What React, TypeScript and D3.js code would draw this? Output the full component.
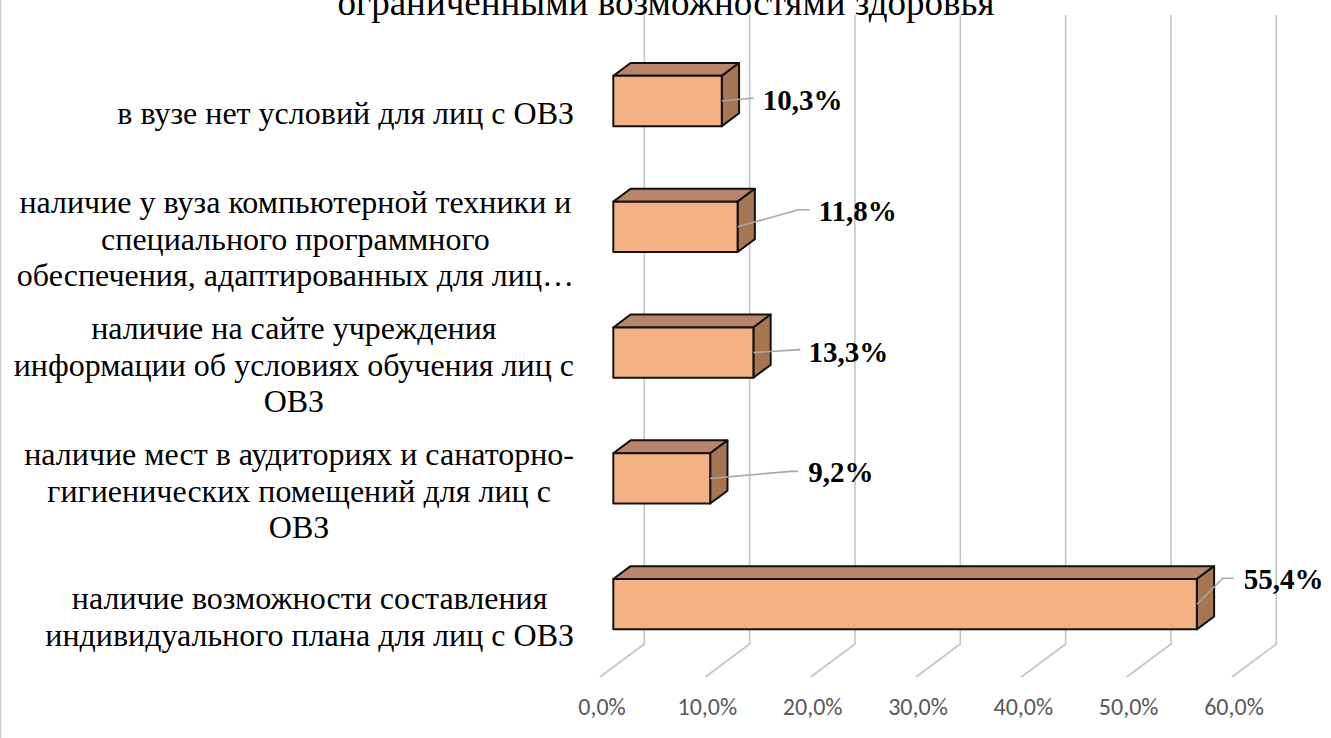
import React, { useMemo } from "react";
import * as d3 from "d3";

const titleLines = ["ограниченными возможностями здоровья"];

const categories = [
  "в вузе нет условий для лиц с ОВЗ",
  "наличие у вуза компьютерной техники и специального программного обеспечения, адаптированных для лиц…",
  "наличие на сайте учреждения информации об условиях обучения лиц с ОВЗ",
  "наличие мест в аудиториях и санаторно-гигиенических помещений для лиц с ОВЗ",
  "наличие возможности составления индивидуального плана для лиц с ОВЗ",
];

const categoryLines = [
  ["в вузе нет условий для лиц с ОВЗ"],
  ["наличие у вуза компьютерной техники и", "специального программного", "обеспечения, адаптированных для лиц…"],
  ["наличие на сайте учреждения", "информации об условиях обучения лиц с", "ОВЗ"],
  ["наличие мест в аудиториях и санаторно-", "гигиенических помещений для лиц с", "ОВЗ"],
  ["наличие возможности составления", "индивидуального плана для лиц с ОВЗ"],
];

const values = [10.3, 11.8, 13.3, 9.2, 55.4];
const valueLabels = ["10,3%", "11,8%", "13,3%", "9,2%", "55,4%"];
const tickValues = [0, 10, 20, 30, 40, 50, 60];
const tickLabels = ["0,0%", "10,0%", "20,0%", "30,0%", "40,0%", "50,0%", "60,0%"];

// manual label placements (relative to the bar end): leader mid, leader end, text anchor
const labelLayout = [
  { mid: [32, -3], end: [32, -3], text: [41, 9] },
  { mid: [61, -17], end: [72, -17], text: [81, -6] },
  { mid: [47, -3], end: [47, -3], text: [55, 9] },
  { mid: [80, -7], end: [88, -7], text: [98, 4] },
  { mid: [26, -26], end: [37, -26], text: [47, -15] },
];

const W = 1331;
const H = 738;
const X0 = 600; // x of 0% on the front floor edge
const DX = 44.3; // depth offset (front -> back)
const DY = -33;
const Y_TOP_FRONT = 48;
const Y_FLOOR_FRONT = 677;
const BAR_D0 = 0.3;
const BAR_D1 = 0.69;

const CAT_FONT_SIZE = 32;
const CAT_FONT = `${CAT_FONT_SIZE}px "Liberation Serif", "Times New Roman", serif`;

function measure(text: string, font: string): number {
  const c = document.createElement("canvas").getContext("2d");
  if (!c) return text.length * 14;
  c.font = font;
  return c.measureText(text).width;
}

export default function App() {
  const x = d3.scaleLinear().domain([0, 60]).range([0, 632]);
  const y = d3
    .scaleBand<string>()
    .domain(categories)
    .range([Y_TOP_FRONT, Y_FLOOR_FRONT])
    .paddingInner(0.6)
    .paddingOuter(0.3);

  const proj = (v: number, yf: number, d: number): [number, number] => [
    X0 + x(v) + d * DX,
    yf + d * DY,
  ];
  const poly = (pts: [number, number][]) => pts.map((p) => p.join(",")).join(" ");

  const blockWidths = useMemo(
    () => categoryLines.map((ls) => Math.max(...ls.map((l) => measure(l, CAT_FONT)))),
    []
  );

  const LABEL_RIGHT = 574;
  const LINE_H = 36.5;

  return (
    <svg
      width={W}
      height={H}
      style={{ position: "absolute", left: 0, top: 0, background: "#fff" }}
    >
      <rect x={0} y={0} width={W} height={H} fill="#fff" />
      <line x1={0.5} y1={0} x2={0.5} y2={H} stroke="#d0d0d0" strokeWidth={1.5} />

      {/* title (its first line lies above the visible frame, as in the source) */}
      {titleLines.map((t, i) => (
        <text
          key={i}
          x={666}
          y={15}
          textAnchor="middle"
          fontFamily='"Liberation Serif", "Times New Roman", serif'
          fontSize={37}
          fill="#000"
        >
          {t}
        </text>
      ))}

      {/* gridlines: back wall + floor */}
      <g fill="none" stroke="#c4c4c4" strokeWidth={1.6}>
        {tickValues.map((v) => {
          const a = proj(v, Y_TOP_FRONT, 1);
          const b = proj(v, Y_FLOOR_FRONT, 1);
          const c = proj(v, Y_FLOOR_FRONT, 0);
          return <polyline key={v} points={poly([a, b, c])} />;
        })}
      </g>

      {/* tick labels */}
      {tickValues.map((v, i) => {
        const [px, py] = proj(v, Y_FLOOR_FRONT, 0);
        return (
          <text
            key={v}
            x={px + 2}
            y={py + 38}
            textAnchor="middle"
            fontFamily='Carlito, Calibri, Lato, "Open Sans", sans-serif'
            fontSize={24}
            fill="#595959"
          >
            {tickLabels[i]}
          </text>
        );
      })}

      {/* bars */}
      {categories.map((c, i) => {
        const yt = y(c)!;
        const yb = yt + y.bandwidth();
        const v = values[i];
        const front = [proj(0, yt, BAR_D0), proj(v, yt, BAR_D0), proj(v, yb, BAR_D0), proj(0, yb, BAR_D0)];
        const top = [proj(0, yt, BAR_D0), proj(v, yt, BAR_D0), proj(v, yt, BAR_D1), proj(0, yt, BAR_D1)];
        const side = [proj(v, yt, BAR_D0), proj(v, yt, BAR_D1), proj(v, yb, BAR_D1), proj(v, yb, BAR_D0)];
        return (
          <g key={c} stroke="#111" strokeWidth={2} strokeLinejoin="round">
            <polygon points={poly(top as [number, number][])} fill="#B9856A" />
            <polygon points={poly(side as [number, number][])} fill="#A67552" />
            <polygon points={poly(front as [number, number][])} fill="#F4B183" />
          </g>
        );
      })}

      {/* data labels */}
      {categories.map((c, i) => {
        const yt = y(c)!;
        const [ex, ey] = proj(values[i], yt + y.bandwidth() / 2, BAR_D0);
        const L = labelLayout[i];
        return (
          <g key={c}>
            <polyline
              points={poly([
                [ex, ey],
                [ex + L.mid[0], ey + L.mid[1]],
                [ex + L.end[0], ey + L.end[1]],
              ])}
              fill="none"
              stroke="#a6a6a6"
              strokeWidth={1.6}
            />
            <text
              x={ex + L.text[0]}
              y={ey + L.text[1]}
              fontFamily='"Liberation Serif", "Times New Roman", serif'
              fontWeight="bold"
              fontSize={29}
              fill="#000"
            >
              {valueLabels[i]}
            </text>
          </g>
        );
      })}

      {/* category labels */}
      {categories.map((c, i) => {
        const lines = categoryLines[i];
        const center = y(c)! + y.bandwidth() / 2 + 2;
        const cx = LABEL_RIGHT - blockWidths[i] / 2;
        const y0 = center - ((lines.length - 1) * LINE_H) / 2;
        return (
          <text
            key={c}
            textAnchor="middle"
            fontFamily='"Liberation Serif", "Times New Roman", serif'
            fontSize={CAT_FONT_SIZE}
            fill="#000"
          >
            {lines.map((l, j) => (
              <tspan key={j} x={cx} y={y0 + j * LINE_H} dy="0.35em">
                {l}
              </tspan>
            ))}
          </text>
        );
      })}
    </svg>
  );
}
